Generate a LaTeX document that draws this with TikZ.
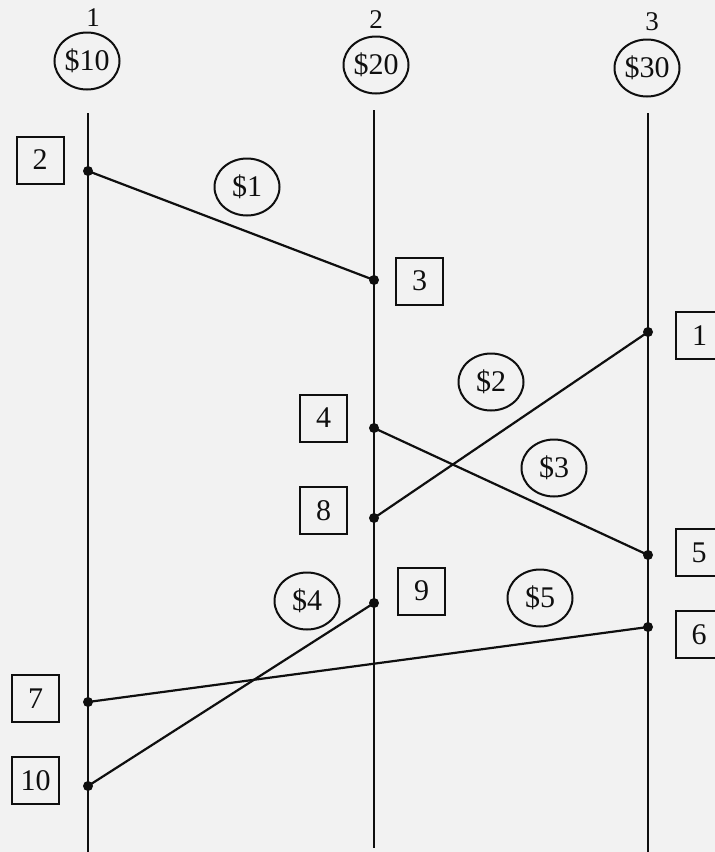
\documentclass[tikz,border=0pt]{standalone}
\usepackage{fontspec}
\setmainfont{Liberation Serif}
\usetikzlibrary{shapes.geometric}
\definecolor{bgc}{RGB}{242,242,242}
\definecolor{ink}{RGB}{15,15,15}
\tikzset{
  x=1pt, y=-1pt,
  money/.style={draw=ink, line width=2pt, ellipse, minimum width=65pt, minimum height=57pt, inner sep=0pt, text=ink, font=\fontsize{30}{34}\selectfont},
  evbox/.style={draw=ink, line width=2pt, rectangle, minimum width=47pt, minimum height=47pt, inner sep=0pt, text=ink, font=\fontsize{30}{34}\selectfont},
  proc/.style={text=ink, inner sep=0pt, font=\fontsize{27}{32}\selectfont},
  life/.style={draw=ink, line width=2.2pt},
  msg/.style={draw=ink, line width=2.2pt},
}
\newcommand{\evdot}[1]{\fill[ink] (#1) circle (5pt);}
\begin{document}
\begin{tikzpicture}
\fill[bgc] (0,0) rectangle (715,852);
\useasboundingbox (0,0) rectangle (715,852);

% process labels
\node[proc] (p1) at (93,18) {1};
\node[proc] (p2) at (376,20) {2};
\node[proc] (p3) at (652,22) {3};
\node[money] (c10) at (87,61) {\$10};
\node[money] (c20) at (376,65) {\$20};
\node[money] (c30) at (647,68) {\$30};

% lifelines
\coordinate (t1) at (88,113);  \coordinate (e1) at (88,852);
\coordinate (t2) at (374,110); \coordinate (e2) at (374,848);
\coordinate (t3) at (648,113); \coordinate (e3) at (648,852);
\draw[life] (t1) -- (e1);
\draw[life] (t2) -- (e2);
\draw[life] (t3) -- (e3);

% events
\coordinate (d2) at (88,171);
\coordinate (d3) at (374,280);
\coordinate (d1) at (648,332);
\coordinate (d4) at (374,428);
\coordinate (d8) at (374,518);
\coordinate (d5) at (648,555);
\coordinate (d9) at (374,603);
\coordinate (d6) at (648,627);
\coordinate (d7) at (88,702);
\coordinate (d10) at (88,786);

% messages
\draw[msg] (d2) -- (d3);
\draw[msg] (d1) -- (d8);
\draw[msg] (d4) -- (d5);
\draw[msg] (d9) -- (d10);
\draw[msg] (d6) -- (d7);

\evdot{d2}\evdot{d3}\evdot{d1}\evdot{d4}\evdot{d8}
\evdot{d5}\evdot{d9}\evdot{d6}\evdot{d7}\evdot{d10}

% message amounts
\node[money] (m1) at (247,187) {\$1};
\node[money] (m2) at (491,382) {\$2};
\node[money] (m3) at (554,468) {\$3};
\node[money] (m4) at (307,601) {\$4};
\node[money] (m5) at (540,598) {\$5};

% event numbers
\node[evbox] (b2) at (40,160) {2};
\node[evbox] (b3) at (419.5,281) {3};
\node[evbox] (b1) at (699.5,335.5) {1};
\node[evbox] (b4) at (323.5,418) {4};
\node[evbox] (b8) at (323.5,510.5) {8};
\node[evbox] (b5) at (699,552.5) {5};
\node[evbox] (b9) at (421.5,591) {9};
\node[evbox] (b6) at (699,634.5) {6};
\node[evbox] (b7) at (35.5,698.5) {7};
\node[evbox] (b10) at (35.5,780.5) {10};
\end{tikzpicture}
\end{document}
